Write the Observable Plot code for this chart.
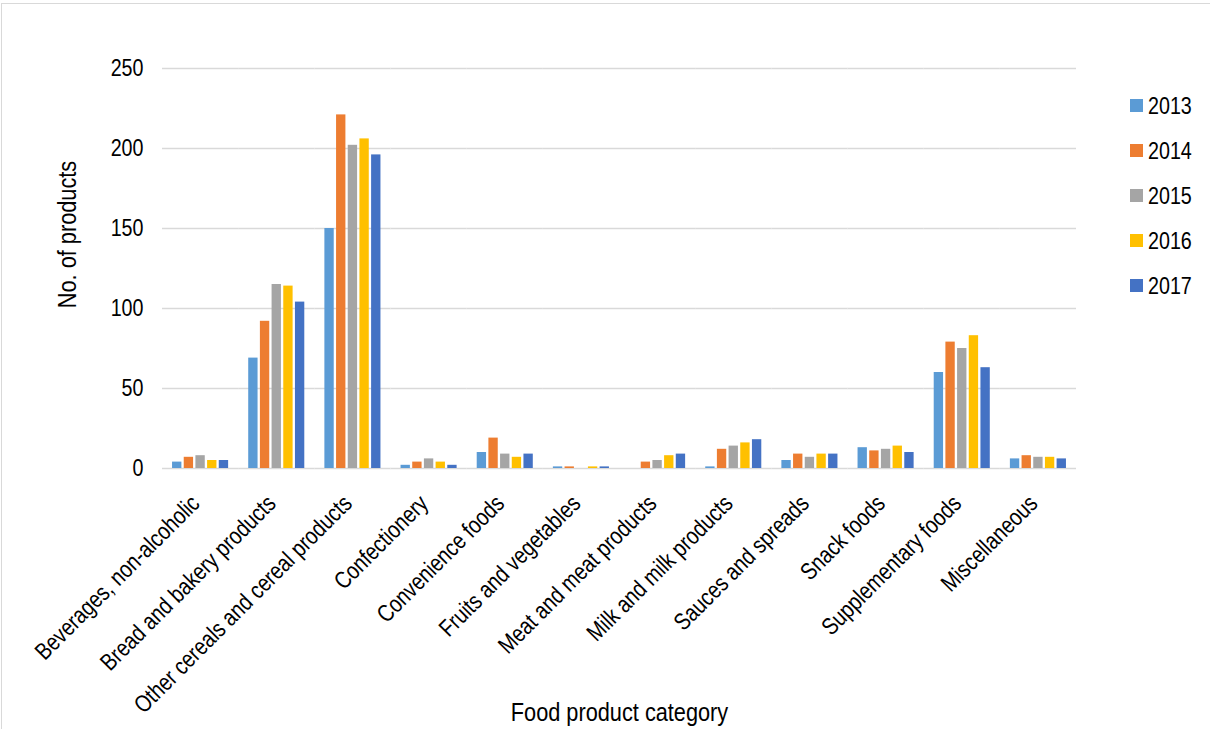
<!DOCTYPE html>
<html>
<head>
<meta charset="utf-8">
<script src="https://cdn.jsdelivr.net/npm/d3@7"></script>
<script src="https://cdn.jsdelivr.net/npm/@observablehq/plot@0.6"></script>
<style>
  html, body { margin: 0; padding: 0; background: #fff; }
  #wrap { position: relative; width: 1210px; height: 729px; overflow: hidden;
          font-family: "Liberation Sans", Arial, sans-serif; }
  #edge { position: absolute; left: 1px; top: 3px; right: -4px; bottom: -4px;
          border-top: 1.5px solid #d9d9d9; border-left: 1.5px solid #d9d9d9; pointer-events: none; }
  #legend { position: absolute; left: 1130px; top: 83px; }
  .item { display: flex; align-items: center; height: 45px; font-size: 24px; color: #000; }
  .sw { width: 13px; height: 13px; margin-right: 5px; flex: none; }
  .item span { display: inline-block; transform: scaleX(0.82); transform-origin: left center; }
</style>
</head>
<body>
<div id="wrap"><div id="edge"></div></div>
<script>
// Food product categories (x groups)
const categories = [
  "Beverages, non-alcoholic",
  "Bread and bakery products",
  "Other cereals and cereal products",
  "Confectionery",
  "Convenience foods",
  "Fruits and vegetables",
  "Meat and meat products",
  "Milk and milk products",
  "Sauces and spreads",
  "Snack foods",
  "Supplementary foods",
  "Miscellaneous"
];

// Series (one per year)
const years = ["2013", "2014", "2015", "2016", "2017"];
const colors = ["#5B9BD5", "#ED7D31", "#A5A5A5", "#FFC000", "#4472C4"];

// Number of products per category, per year
const v2013 = [4, 69, 150, 2, 10, 1, 0, 1, 5, 13, 60, 6];
const v2014 = [7, 92, 221, 4, 19, 1, 4, 12, 9, 11, 79, 8];
const v2015 = [8, 115, 202, 6, 9, 0, 5, 14, 7, 12, 75, 7];
const v2016 = [5, 114, 206, 4, 7, 1, 8, 16, 9, 14, 83, 7];
const v2017 = [5, 104, 196, 2, 9, 1, 9, 18, 9, 10, 63, 6];

const yTicks = [0, 50, 100, 150, 200, 250];

const series = [v2013, v2014, v2015, v2016, v2017];
const data = [];
categories.forEach((c, i) => {
  years.forEach((y, j) => data.push({category: c, year: y, value: series[j][i]}));
});

// Narrow face: regular sans squeezed horizontally
const NARROW = 0.82;

const chart = Plot.plot({
  width: 1210,
  height: 729,
  marginLeft: 162,
  marginRight: 134,
  marginTop: 68,
  marginBottom: 261,
  style: {fontFamily: '"Liberation Sans", Arial, sans-serif', fontSize: "24px", color: "#000", background: "transparent"},
  fx: {domain: categories, paddingInner: 0, paddingOuter: 0, round: false},
  x: {domain: years, axis: null, paddingInner: 0.2, paddingOuter: 0.86, round: false},
  y: {domain: [0, 250]},
  color: {domain: years, range: colors},
  marks: [
    Plot.gridY({ticks: yTicks, stroke: "#d9d9d9", strokeOpacity: 1, strokeWidth: 1.5}),
    Plot.axisY({ticks: yTicks, tickSize: 0, tickPadding: 19, label: null, fontSize: 24}),
    Plot.axisFx({anchor: "bottom", tickRotate: -45, tickSize: 0, tickPadding: 31, dx: -5, label: null, fontSize: 24}),
    Plot.axisFx({anchor: "bottom", ticks: [], label: "Food product category", labelAnchor: "center", labelOffset: 252, fontSize: 26.5}),
    Plot.barY(data, {fx: "category", x: "year", y: "value", fill: "year"}),
    Plot.text(["No. of products"], {
      fx: () => categories[0], text: d => d, frameAnchor: "left", textAnchor: "middle",
      dx: -95, dy: -34, rotate: -90, fontSize: 26.5, fill: "#000"
    })
  ]
});

const wrap = document.getElementById("wrap");
wrap.insertBefore(chart, wrap.firstChild);

// Condense every label to the narrow face
chart.querySelectorAll("text").forEach(t => {
  const len = t.getComputedTextLength();
  if (len > 0) {
    t.setAttribute("textLength", len * NARROW);
    t.setAttribute("lengthAdjust", "spacingAndGlyphs");
  }
});

// Legend on the right
const legend = document.createElement("div");
legend.id = "legend";
years.forEach((y, i) => {
  const item = document.createElement("div");
  item.className = "item";
  const sw = document.createElement("div");
  sw.className = "sw";
  sw.style.background = colors[i];
  const label = document.createElement("span");
  label.textContent = y;
  item.appendChild(sw);
  item.appendChild(label);
  legend.appendChild(item);
});
wrap.appendChild(legend);
</script>
</body>
</html>
